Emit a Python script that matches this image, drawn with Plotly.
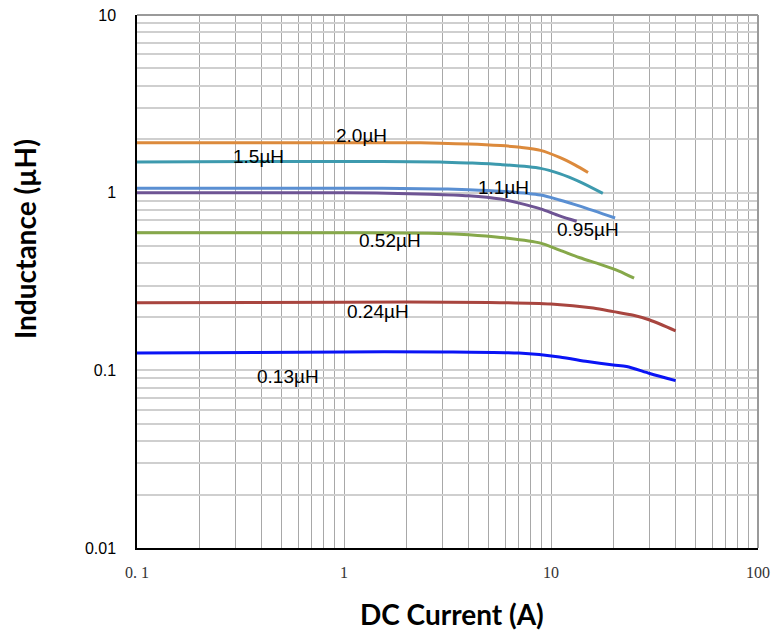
import plotly.graph_objects as go
import math

# ---- data ----
l20_x = [0.1, 0.3, 1, 2, 2.9, 4.0, 5.7, 7.1, 8.9, 11, 13.1, 15.1]
l20_y = [1.91, 1.91, 1.91, 1.91, 1.90, 1.88, 1.84, 1.80, 1.73, 1.58, 1.43, 1.30]

l15_x = [0.1, 1, 2.9, 4.0, 5.7, 8.9, 11, 13.8, 17.8]
l15_y = [1.49, 1.50, 1.49, 1.47, 1.44, 1.37, 1.28, 1.15, 0.99]

l11_x = [0.1, 1, 2.9, 4.0, 5.7, 8.9, 11, 13.8, 20.4]
l11_y = [1.06, 1.06, 1.05, 1.04, 1.02, 0.97, 0.91, 0.84, 0.72]

l095_x = [0.1, 1, 2.6, 4.0, 5.7, 7.1, 8.9, 11, 13.3]
l095_y = [1.00, 1.00, 0.98, 0.96, 0.92, 0.87, 0.81, 0.74, 0.69]

l052_x = [0.1, 1, 2.9, 4.0, 5.7, 8.9, 11, 13.8, 17.3, 21.3, 25.2]
l052_y = [0.595, 0.595, 0.59, 0.58, 0.56, 0.52, 0.475, 0.43, 0.395, 0.362, 0.33]

l024_x = [0.1, 1, 5, 10, 16, 20, 25, 30, 40]
l024_y = [0.240, 0.242, 0.241, 0.236, 0.224, 0.214, 0.204, 0.192, 0.167]

l013_x = [0.1, 1, 3, 7, 11, 15, 20, 23.2, 30, 40]
l013_y = [0.125, 0.127, 0.127, 0.125, 0.119, 0.112, 0.107, 0.105, 0.096, 0.0875]

series_names = ["2.0µH", "1.5µH", "1.1µH", "0.95µH", "0.52µH", "0.24µH", "0.13µH"]
series_x = [l20_x, l15_x, l11_x, l095_x, l052_x, l024_x, l013_x]
series_y = [l20_y, l15_y, l11_y, l095_y, l052_y, l024_y, l013_y]
series_colors = ["#DC8A3C", "#3D9AAE", "#5A8FD2", "#6E5494", "#86A84A", "#A8453F", "#0A14F5"]

# label positions (data coords)
label_x = [1.22, 0.388, 5.89, 15.1, 1.66, 1.46, 0.536]
label_y = [2.11, 1.59, 1.067, 0.617, 0.537, 0.213, 0.0918]

x_major = [0.1, 1, 10, 100]
x_major_text = ["0. 1", "1", "10", "100"]
y_major = [0.01, 0.1, 1, 10]
y_major_text = ["0.01", "0.1", "1", "10"]

def log_ticks(majors, texts):
    vals, txt = [], []
    for i, m in enumerate(majors):
        vals.append(m)
        txt.append(texts[i])
        if i < len(majors) - 1:
            for k in range(2, 10):
                vals.append(m * k)
                txt.append("")
    return vals, txt

xv, xt = log_ticks(x_major, x_major_text)
yv, yt = log_ticks(y_major, y_major_text)

fig = go.Figure()
for name, xs, ys, c in zip(series_names, series_x, series_y, series_colors):
    fig.add_trace(go.Scatter(x=xs, y=ys, mode="lines", name=name,
                             line=dict(color=c, width=3, shape="spline", smoothing=0.8),
                             showlegend=False, hoverinfo="skip"))

for name, lx, ly in zip(series_names, label_x, label_y):
    fig.add_annotation(x=math.log10(lx), y=math.log10(ly), text=name, showarrow=False,
                       font=dict(family="Liberation Sans, Arial, sans-serif", size=19, color="#000"),
                       xanchor="center", yanchor="middle")

fig.add_annotation(xref="paper", yref="paper", x=0.507, y=-0.124, text="<b>DC Current (A)</b>",
                   showarrow=False, xanchor="center", yanchor="middle",
                   font=dict(family="Lato, sans-serif", size=28, color="#000"))
fig.add_annotation(xref="paper", yref="paper", x=-0.18, y=0.58, text="<b>Inductance (µH)</b>",
                   showarrow=False, xanchor="center", yanchor="middle", textangle=-90,
                   font=dict(family="Lato, sans-serif", size=28, color="#000"))

# top and right frame (gray)
fig.add_shape(type="line", xref="paper", yref="paper", x0=0, x1=1, y0=1, y1=1,
              line=dict(color="#9A9A9A", width=2))
fig.add_shape(type="line", xref="paper", yref="paper", x0=1, x1=1, y0=0, y1=1,
              line=dict(color="#9A9A9A", width=2))

fig.update_layout(
    width=774, height=636,
    margin=dict(l=137, r=16, t=15, b=88, autoexpand=False),
    paper_bgcolor="white", plot_bgcolor="white",
    hovermode=False,
    xaxis=dict(type="log", range=[-1, 2], tickmode="array", tickvals=xv, ticktext=xt,
               showgrid=True, gridcolor="#A8A8A8", gridwidth=1, zeroline=False,
               showline=True, linecolor="#000", linewidth=1.5, ticks="",
               ticklabelstandoff=9, ticklabeloverflow="allow", automargin=False,
               tickfont=dict(family="Liberation Serif, serif", size=16, color="#333")),
    yaxis=dict(type="log", range=[-2, 1], tickmode="array", tickvals=yv, ticktext=yt,
               showgrid=True, gridcolor="#CFCFCF", gridwidth=2, zeroline=False,
               showline=True, linecolor="#000", linewidth=1.5, ticks="",
               ticklabelstandoff=16, ticklabeloverflow="allow", automargin=False,
               tickfont=dict(family="Liberation Sans, Arial, sans-serif", size=16, color="#000")),
)

fig.write_html("out.html", config={"displayModeBar": False},
               post_script="document.body.style.margin='0';document.body.style.overflow='hidden';")
